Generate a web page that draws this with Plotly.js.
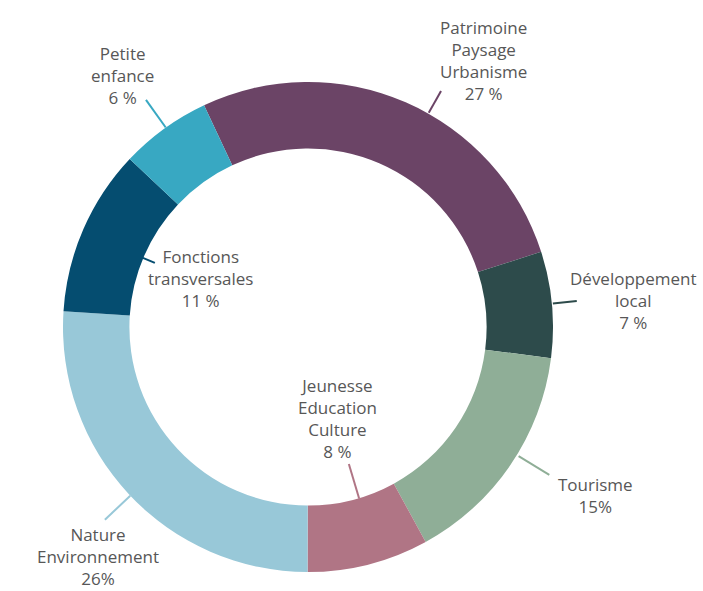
<!DOCTYPE html>
<html>
<head>
<meta charset="utf-8">
<script src="https://cdn.plot.ly/plotly-3.0.1.min.js"></script>
<style>html,body{margin:0;padding:0;background:#fff}#chart{width:703px;height:591px}</style>
</head>
<body>
<div id="chart"></div>
<script>
// ---- data ----
var categories = ["Patrimoine<br>Paysage<br>Urbanisme", "Développement<br>local", "Tourisme",
                  "Jeunesse<br>Education<br>Culture", "Nature<br>Environnement",
                  "Fonctions<br>transversales", "Petite<br>enfance"];
var values = [27, 7, 15, 8, 26, 11, 6];
var valueLabels = ["27 %", "7 %", "15%", "8 %", "26%", "11 %", "6 %"];

// ---- styles / layout positions ----
var colors = ["#6b4466", "#2d4b4b", "#8fae97", "#b07585", "#98c8d8", "#054d70", "#38a8c2"];
var W = 703, H = 591;
var cx = 308, cy = 327, R = 245;
// [x, y, yanchor]
var labelPos = [[483, 60, 'middle'], [633, 300, 'middle'], [595, 495, 'middle'], [337, 418, 'middle'],
                [98, 591, 'bottom'], [200, 278, 'middle'], [122, 75, 'middle']];
// leader lines: [angle (deg clockwise from top), r1, r2]
var leaders = [[29.4, 246, 271], [84.5, 246, 270], [121.5, 247, 283], [163.4, 143, 179],
               [226.5, 245, 280], [292.7, 166, 179], [324.5, 245, 279]];

var trace = {
  type: 'pie',
  labels: categories,
  values: values,
  hole: 0.729,
  sort: false,
  direction: 'clockwise',
  rotation: -25.1,
  textinfo: 'none',
  hoverinfo: 'label+percent',
  marker: {colors: colors, line: {color: '#ffffff', width: 0}},
  domain: {x: [(cx - R) / W, (cx + R) / W], y: [1 - (cy + R) / H, 1 - (cy - R) / H]},
  showlegend: false
};

var annotations = categories.map(function (c, i) {
  return {
    xref: 'x', yref: 'y', x: labelPos[i][0], y: labelPos[i][1],
    text: c + '<br>' + valueLabels[i],
    showarrow: false, align: 'center', xanchor: 'center', yanchor: labelPos[i][2],
    borderpad: 0,
    font: {family: '"Open Sans", Lato, sans-serif', size: 17, color: '#575757'}
  };
});

var shapes = leaders.map(function (l, i) {
  var a = l[0] * Math.PI / 180;
  return {
    type: 'line', xref: 'x', yref: 'y',
    x0: cx + l[1] * Math.sin(a), y0: cy - l[1] * Math.cos(a),
    x1: cx + l[2] * Math.sin(a), y1: cy - l[2] * Math.cos(a),
    line: {color: colors[i], width: 2}
  };
});

var layout = {
  width: W, height: H,
  margin: {l: 0, r: 0, t: 0, b: 0},
  paper_bgcolor: '#ffffff', plot_bgcolor: 'rgba(0,0,0,0)',
  xaxis: {range: [0, W], visible: false, fixedrange: true},
  yaxis: {range: [H, 0], visible: false, fixedrange: true},
  annotations: annotations,
  shapes: shapes
};

Plotly.newPlot('chart', [trace], layout, {displayModeBar: false, staticPlot: true});
</script>
</body>
</html>
